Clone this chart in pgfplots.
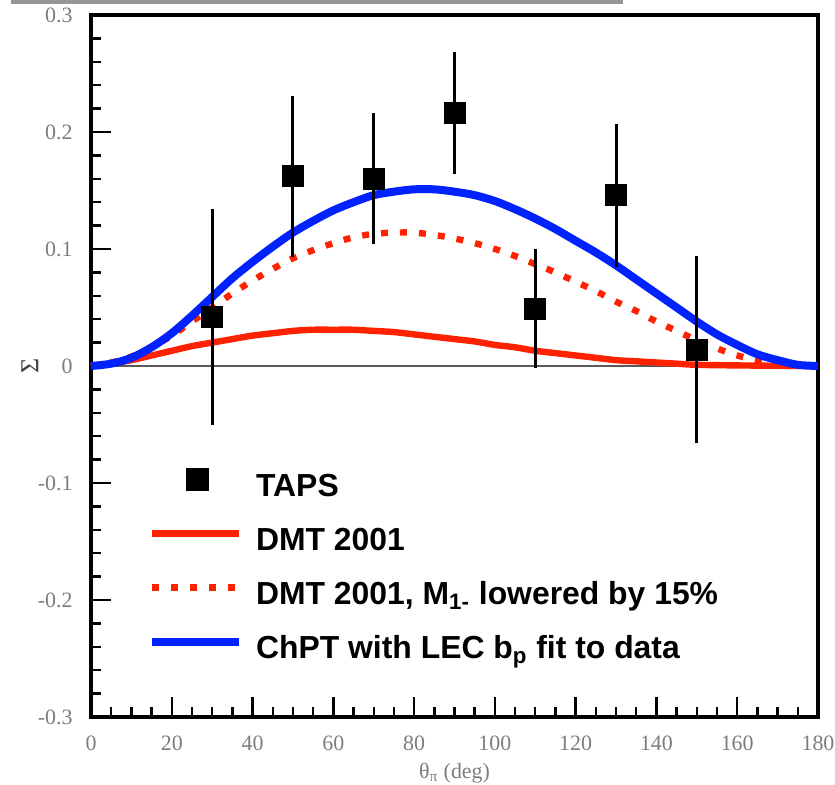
\documentclass[border=0pt]{standalone}
\usepackage{fontspec}
\setmainfont{Liberation Serif}
\newfontfamily\legfont{Liberation Sans}
\usepackage{pgfplots}
\usepackage{pgfplotstable}
\pgfplotsset{compat=1.18}

\definecolor{dmtred}{RGB}{255,34,0}
\definecolor{chptblue}{RGB}{0,34,255}
\definecolor{lblgray}{RGB}{125,125,125}
\definecolor{zerogray}{RGB}{90,90,90}
\definecolor{rulegray}{RGB}{150,150,150}

\pgfplotsset{
  legline/.style={legend image code/.code={\draw[##1] (0bp,4.5bp) -- (43.5bp,4.5bp);}},
  legsquare/.style={legend image code/.code={\fill[black] (17bp,-1bp) rectangle (28bp,10bp);}},
}

% TAPS photon asymmetry Sigma with errors
\pgfplotstableread{
x   y      e
30  0.042  0.087
50  0.162  0.064
70  0.160  0.051
90  0.216  0.047
110 0.049  0.046
130 0.146  0.056
150 0.014  0.075
}\taps

% DMT 2001
\pgfplotstableread{
x   y
0   0
5   0.002
10  0.005
15  0.009
20  0.013
25  0.017
30  0.020
35  0.023
40  0.026
45  0.028
50  0.030
55  0.031
60  0.031
65  0.031
70  0.030
75  0.029
80  0.027
85  0.025
90  0.023
95  0.021
100 0.018
105 0.016
110 0.013
115 0.011
120 0.009
125 0.007
130 0.005
135 0.004
140 0.003
145 0.002
150 0.001
160 0.0005
170 0.0002
180 0
}\dmt

% DMT 2001 with M1- lowered by 15%
\pgfplotstableread{
x   y
0   0
5   0.003
10  0.008
15  0.016
20  0.026
25  0.038
30  0.050
35  0.062
40  0.073
45  0.083
50  0.092
55  0.099
60  0.105
65  0.110
70  0.113
75  0.114
80  0.114
85  0.112
90  0.109
95  0.105
100 0.100
105 0.094
110 0.087
115 0.080
120 0.072
125 0.064
130 0.055
135 0.047
140 0.038
145 0.030
150 0.022
155 0.015
160 0.009
165 0.005
170 0.002
175 0.0005
180 0
}\dmtlow

% ChPT with LEC b_p fitted
\pgfplotstableread{
x   y
0   0
5   0.002
10  0.007
15  0.016
20  0.028
25  0.043
30  0.059
35  0.075
40  0.089
45  0.102
50  0.114
55  0.124
60  0.133
65  0.140
70  0.146
75  0.149
80  0.151
85  0.151
90  0.149
95  0.146
100 0.141
105 0.134
110 0.126
115 0.117
120 0.107
125 0.097
130 0.086
135 0.074
140 0.062
145 0.050
150 0.038
155 0.027
160 0.018
165 0.010
170 0.005
175 0.001
180 0
}\chpt

\begin{document}
\begin{tikzpicture}
\begin{axis}[
  scale only axis,
  width=363.5bp, height=351bp,
  xmin=0, xmax=180, ymin=-0.3, ymax=0.3,
  clip=false,
  xtick={0,20,40,60,80,100,120,140,160,180},
  minor x tick num=3,
  ytick={-0.3,-0.2,-0.1,0,0.1,0.2,0.3},
  yticklabels={-0.3,-0.2,-0.1,0,0.1,0.2,0.3},
  minor y tick num=4,
  tick pos=left, tick align=inside,
  major tick length=10bp, minor tick length=5bp,
  tick style={black, line width=1.2bp},
  minor tick style={black, line width=1.2bp},
  axis line style={line width=1.6bp},
  /pgf/number format/assume math mode=true,
  ticklabel style={font=\fontsize{11}{12}\selectfont, text=lblgray, inner sep=0pt},
  xticklabel style={anchor=center, yshift=-13bp},
  yticklabel style={anchor=east, xshift=-9bp},
  xlabel={θ\textsubscript{π} (deg)},
  xlabel style={font=\fontsize{11}{12}\selectfont, text=lblgray, at={(axis description cs:0.5,0)}, anchor=center, yshift=-28bp},
  ylabel={Σ},
  ylabel style={font=\fontsize{13}{14}\selectfont, text=black!75, at={(axis description cs:0,0.5)}, anchor=center, yshift=30.5bp},
  legend cell align=left,
  legend style={draw=none, fill=none, inner sep=0pt,
    font=\legfont\bfseries\fontsize{16}{18}\selectfont,
    at={(rel axis cs:0.078,0.355)}, anchor=north west,
    row sep=13bp, column sep=6.5bp,
    nodes={inner sep=0pt, text height=11bp, text depth=3bp}},
]
% legend entries
\addlegendimage{legsquare}
\addlegendentry{TAPS}
\addlegendimage{dmtred, line width=3.5bp, legline}
\addlegendentry{DMT 2001}
\addlegendimage{dmtred, line width=3.2bp, dash pattern=on 3.5bp off 6bp, legline}
\addlegendentry{DMT 2001, M\textsubscript{1-} lowered by 15\%}
\addlegendimage{chptblue, line width=4bp, legline}
\addlegendentry{ChPT with LEC b\textsubscript{p} fit to data}

% zero line
\addplot[zerogray, line width=1.2bp, forget plot] coordinates {(0,0) (180,0)};
% theory curves
\addplot[dmtred, line width=3.2bp, smooth, forget plot] table[x=x, y=y] {\dmt};
\addplot[dmtred, line width=3.2bp, dash pattern=on 3.5bp off 6bp, smooth, forget plot] table[x=x, y=y] {\dmtlow};
\addplot[chptblue, line width=4bp, smooth, forget plot] table[x=x, y=y] {\chpt};
% data
\addplot[only marks, mark=square*, mark size=5.25bp, black, mark options={line width=0pt},
  forget plot,
  error bars/.cd, y dir=both, y explicit,
  error bar style={line width=1.5bp, black},
  error mark options={line width=1.5bp, mark size=3bp, black}]
  table[x=x, y=y, y error=e] {\taps};

\coordinate (sw) at (rel axis cs:0,0);
\coordinate (ne) at (rel axis cs:1,1);
\draw[rulegray, line width=1.6bp] ([shift={(-40bp,6.5bp)}]rel axis cs:0,1) -- ([shift={(266bp,6.5bp)}]rel axis cs:0,1);
\end{axis}
\pgfresetboundingbox
\useasboundingbox ([shift={(-45.5bp,-34bp)}]sw) rectangle ([shift={(8.5bp,7.5bp)}]ne);
\end{tikzpicture}
\end{document}
